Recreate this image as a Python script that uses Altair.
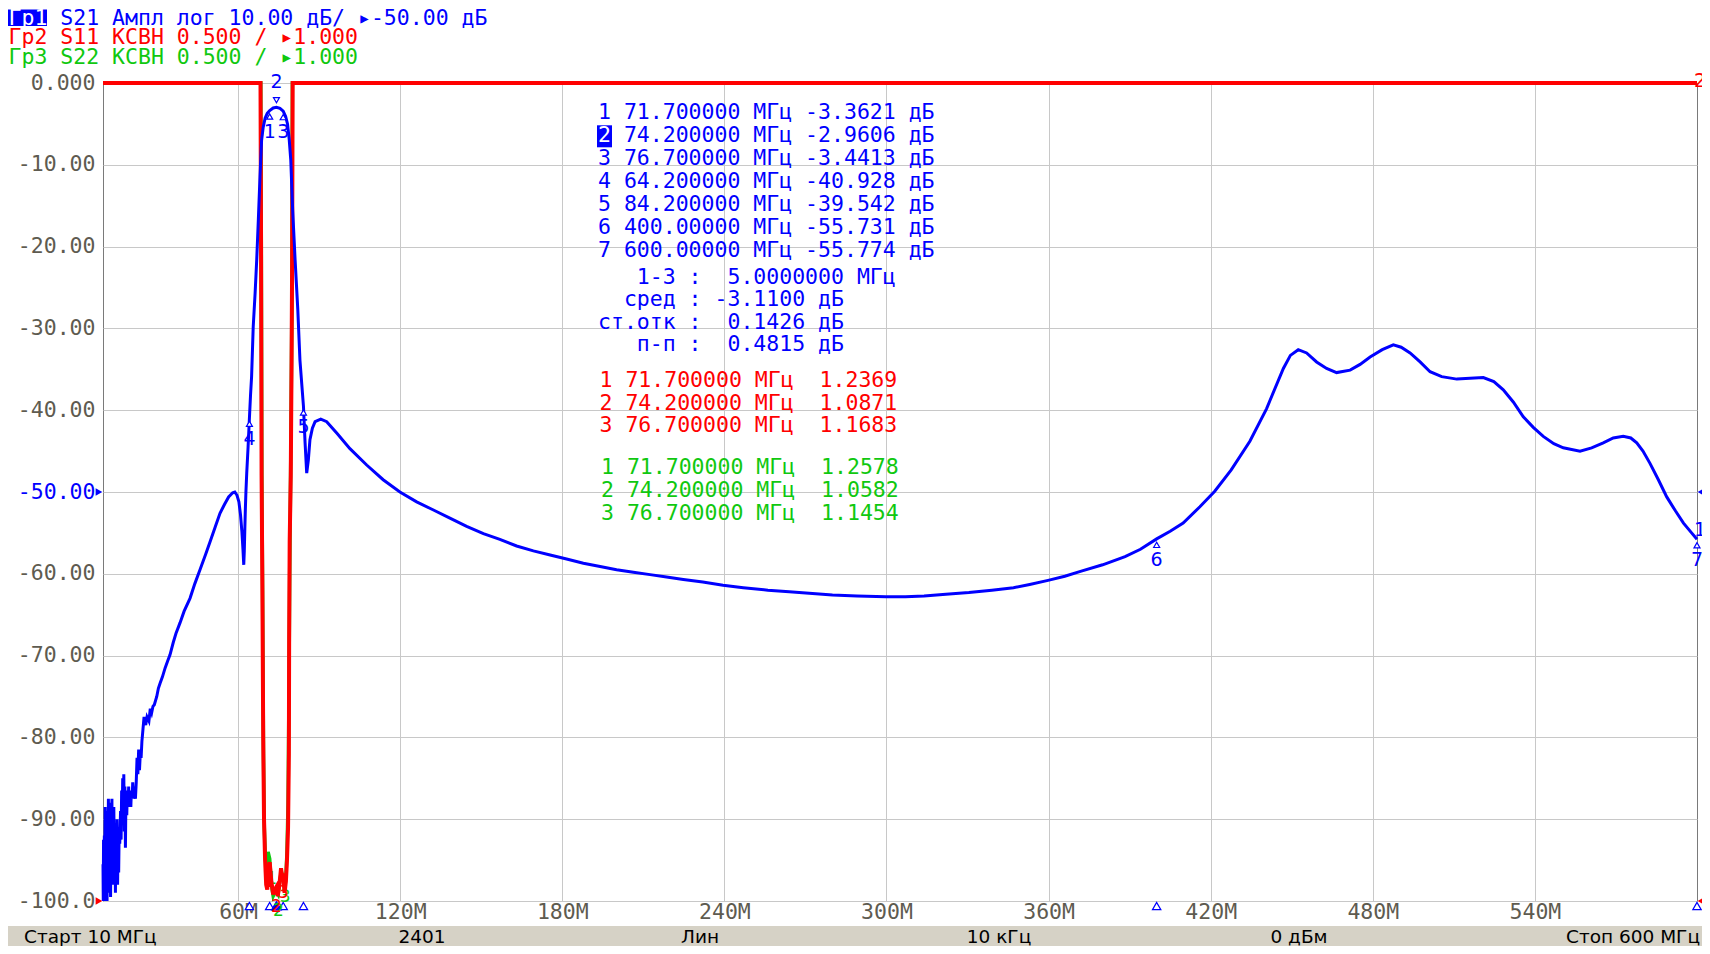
import altair as alt
import pandas as pd

# ---------------- data ----------------
# S21 (Tr1, dB), frequency in MHz
blue_f = [10.0, 10.1, 10.2, 10.35, 10.5, 10.6, 10.8, 10.9, 11.1, 11.2, 11.4, 11.5, 11.7, 11.8,
          12.0, 12.1, 12.3, 12.4, 12.6, 12.8, 13.0, 13.1, 13.3, 13.4, 13.6, 13.8, 14.0, 14.2,
          14.4, 14.6, 14.8, 15.0, 15.2, 15.4, 15.6, 15.8, 16.0, 16.2, 16.5, 16.7, 16.9, 17.1,
          17.3, 17.5, 17.7, 17.9, 18.1, 18.3, 18.5, 18.8, 19.0, 19.3, 19.5, 19.7, 20.0, 20.3,
          20.5, 20.8, 21.0, 21.3, 21.6, 22.0, 22.3, 22.6, 22.9, 23.2, 23.5, 23.8, 24.1, 24.4,
          24.8, 25.2, 25.8, 26.3, 27.0, 27.5, 28.0, 28.5, 29.0, 29.9, 30.5, 31.1, 32.0, 33.0,
          34.0, 34.8, 36.0, 37.0, 38.5, 40.0, 42.2, 44.0, 45.9, 48.0, 49.6, 51.5, 53.3, 55.0,
          56.5, 58.0, 58.8, 59.6, 60.3, 60.9, 61.4, 61.8, 62.1, 62.3, 62.5, 62.7, 62.9, 63.2,
          63.7, 64.2, 64.6, 65.0, 65.6, 66.3, 66.9, 67.5, 68.1, 68.7, 69.3, 70.0, 70.8, 71.7,
          73.0, 74.2, 75.5, 76.7, 77.6, 78.3, 78.9, 79.5, 80.2, 81.1, 82.1, 82.9, 84.2, 84.8,
          85.4, 86.0, 86.6, 87.5, 88.5, 90.6, 92.8, 96.5, 101.4, 107.6, 113.7, 119.9, 126.1,
          132.3, 138.4, 144.6, 150.8, 156.9, 163.1, 169.3, 175.5, 181.6, 187.8, 194.0, 200.1,
          206.3, 212.5, 218.6, 224.8, 232.0, 239.5, 247.0, 256.1, 264.0, 272.6, 280.0, 289.1,
          299.8, 307.0, 313.9, 322.0, 330.5, 339.0, 347.0, 353.0, 359.8, 366.0, 371.8, 380.0,
          388.3, 394.0, 400.0, 405.0, 409.8, 416.0, 421.5, 427.6, 434.5, 440.7, 446.9, 449.5,
          452.4, 455.5, 459.2, 462.9, 466.6, 471.6, 475.3, 479.0, 483.5, 487.6, 490.5, 493.8,
          497.5, 501.2, 505.5, 511.1, 516.0, 520.9, 524.8, 528.3, 532.0, 535.7, 539.4, 543.1,
          547.0, 550.5, 556.7, 561.0, 565.3, 569.0, 572.7, 575.5, 577.7, 580.0, 582.6, 585.7,
          588.8, 592.0, 595.0, 598.0, 600.0]
blue_db = [-95.5, -100.0, -92.5, -99.5, -92.0, -100.0, -88.5, -99.0, -89.0, -97.5, -91.0, -100.0,
           -90.0, -96.5, -87.5, -99.0, -89.5, -97.0, -88.0, -99.5, -90.0, -95.0, -87.5, -94.0,
           -89.0, -98.0, -88.5, -95.0, -90.5, -99.0, -91.0, -96.0, -90.0, -98.0, -92.0, -96.5,
           -91.0, -93.0, -89.0, -92.5, -86.5, -89.5, -85.0, -90.5, -84.5, -91.5, -86.0, -93.5,
           -87.0, -89.5, -86.5, -88.5, -86.0, -88.5, -87.0, -88.5, -86.5, -87.5, -85.5, -87.5,
           -86.0, -87.5, -85.5, -82.5, -84.5, -81.5, -84.0, -82.0, -82.5, -80.5, -79.0, -77.5,
           -78.5, -77.5, -78.0, -76.5, -77.0, -76.2, -76.0, -75.0, -74.0, -73.4, -72.6, -71.5,
           -70.6, -69.9, -68.4, -67.3, -66.0, -64.6, -63.0, -61.2, -59.5, -57.6, -56.1, -54.3,
           -52.6, -51.5, -50.6, -50.1, -50.0, -50.4, -51.2, -52.8, -54.8, -57.0, -58.9, -57.2,
           -54.5, -52.0, -50.0, -47.7, -44.5, -40.928, -38.2, -35.9, -29.8, -25.7, -21.6, -16.7,
           -11.5, -7.0, -5.4, -4.3, -3.7, -3.3621, -3.05, -2.9606, -3.1, -3.4413, -4.1, -5.0,
           -6.8, -9.4, -15.5, -21.6, -27.7, -33.9, -39.542, -44.0, -47.7, -46.1, -43.6, -42.2,
           -41.4, -41.1, -41.4, -42.8, -44.7, -46.7, -48.5, -50.0, -51.2, -52.2, -53.2, -54.2,
           -55.1, -55.8, -56.6, -57.2, -57.7, -58.2, -58.7, -59.1, -59.5, -59.8, -60.1, -60.4,
           -60.7, -61.0, -61.4, -61.7, -62.0, -62.2, -62.4, -62.6, -62.7, -62.8, -62.8, -62.7,
           -62.5, -62.3, -62.0, -61.7, -61.3, -60.8, -60.3, -59.7, -58.9, -57.9, -57.0, -55.731,
           -54.8, -53.8, -51.8, -49.9, -47.3, -43.8, -39.8, -34.9, -33.3, -32.6, -33.0, -34.1,
           -34.9, -35.4, -35.1, -34.4, -33.5, -32.6, -32.0, -32.3, -33.0, -34.1, -35.3, -35.9,
           -36.2, -36.1, -36.0, -36.5, -37.5, -39.0, -40.8, -42.1, -43.2, -44.1, -44.6, -45.0,
           -44.6, -44.0, -43.4, -43.2, -43.4, -44.0, -45.0, -46.5, -48.5, -50.6, -52.3, -53.8,
           -55.0, -55.774]

# S11 (Tr2, VSWR) - values at the top are shown clipped at 6.0
red_f = [10.0, 68.3, 68.5, 68.7, 69.0, 69.3, 69.6, 70.0, 70.4, 70.8, 71.2, 71.7, 72.3, 73.0,
         73.6, 74.2, 74.7, 75.3, 75.9, 76.3, 76.7, 77.2, 77.7, 78.1, 78.5, 78.8, 78.9, 79.1,
         79.5, 79.8, 80.0, 80.2, 600.0]
red_vswr = [6.0, 6.0, 5.0, 3.6, 2.9, 2.0, 1.5, 1.25, 1.10, 1.07, 1.20, 1.2369, 1.12, 1.04,
            1.07, 1.0871, 1.03, 1.10, 1.20, 1.15, 1.1683, 1.05, 1.12, 1.25, 1.45, 1.9, 2.6,
            3.2, 3.6, 4.3, 4.9, 6.0, 6.0]

# S22 (Tr3, VSWR)
green_f = [10.0, 68.4, 68.6, 68.8, 69.1, 69.4, 69.7, 70.1, 70.6, 71.1, 71.7, 72.3, 73.0, 73.6,
           74.2, 74.8, 75.4, 76.0, 76.7, 77.2, 77.7, 78.1, 78.5, 78.8, 79.1, 79.5, 79.9, 80.1,
           600.0]
green_vswr = [6.0, 6.0, 5.0, 3.6, 2.8, 1.9, 1.45, 1.27, 1.15, 1.30, 1.2578, 1.10, 1.03, 1.05,
              1.0582, 1.04, 1.12, 1.18, 1.1454, 1.06, 1.15, 1.3, 1.6, 2.2, 3.0, 3.7, 4.6, 6.0,
              6.0]

marker_num = ["1", "2", "3", "4", "5", "6", "7"]
marker_f = [71.7, 74.2, 76.7, 64.2, 84.2, 400.0, 600.0]
marker_db = [-3.3621, -2.9606, -3.4413, -40.928, -39.542, -55.731, -55.774]
active_marker = "2"
vswr_marker_num = ["1", "2", "3"]
vswr_marker_f = [71.7, 74.2, 76.7]
red_marker_vswr = [1.2369, 1.0871, 1.1683]
green_marker_vswr = [1.2578, 1.0582, 1.1454]

x_ticks = [60, 120, 180, 240, 300, 360, 420, 480, 540]
y_ticks = [0, -10, -20, -30, -40, -50, -60, -70, -80, -90, -100]
y_tick_labels = ["0.000", "-10.00", "-20.00", "-30.00", "-40.00", "-50.00",
                 "-60.00", "-70.00", "-80.00", "-90.00", "-100.0"]
ref_level_db = -50

header_lines = ["Гр1 S21 Ампл лог 10.00 дБ/ ▸-50.00 дБ",
                "Гр2 S11 КСВН 0.500 / ▸1.000",
                "Гр3 S22 КСВН 0.500 / ▸1.000"]
blue_table = ["1 71.700000 МГц -3.3621 дБ",
              "2 74.200000 МГц -2.9606 дБ",
              "3 76.700000 МГц -3.4413 дБ",
              "4 64.200000 МГц -40.928 дБ",
              "5 84.200000 МГц -39.542 дБ",
              "6 400.00000 МГц -55.731 дБ",
              "7 600.00000 МГц -55.774 дБ"]
stats_table = ["   1-3 :  5.0000000 МГц",
               "  сред : -3.1100 дБ",
               "ст.отк :  0.1426 дБ",
               "   п-п :  0.4815 дБ"]
red_table = ["1 71.700000 МГц  1.2369",
             "2 74.200000 МГц  1.0871",
             "3 76.700000 МГц  1.1683"]
green_table = ["1 71.700000 МГц  1.2578",
               "2 74.200000 МГц  1.0582",
               "3 76.700000 МГц  1.1454"]
status_texts = ["Старт 10 МГц", "2401", "Лин", "10 кГц", "0 дБм", "Стоп 600 МГц"]

# ---------------- styling / layout ----------------
BLUE, RED, GREEN = "#0000ff", "#ff0000", "#10c810"
GRAY = "#5e5b50"
MONO, SANS = "DejaVu Sans Mono", "DejaVu Sans"
FS = 21.5
CW = 0.602 * FS           # advance of one monospace character
W, H = 1594, 818
OX, OY = 103, 83          # page position of the plot origin


def px(x):
    return x - OX


def py(y):
    return y - OY


XS = alt.Scale(domain=[10, 600], nice=False, zero=False)
YDB = alt.Scale(domain=[-100, 0], nice=False, zero=False)
YSW = alt.Scale(domain=[1, 6], nice=False, zero=False, clamp=True)

y_label_expr = "[" + ",".join("'%s'" % s for s in y_tick_labels) + "][round(-datum.value/10)]"

blue_df = pd.DataFrame({"f": blue_f, "db": blue_db})
red_df = pd.DataFrame({"f": red_f, "v": red_vswr})
green_df = pd.DataFrame({"f": green_f, "v": green_vswr})
mk = pd.DataFrame({"t": marker_num, "f": marker_f, "db": marker_db})
mk_pas = mk[mk.t != active_marker]
mk_act = mk[mk.t == active_marker]
red_mk = pd.DataFrame({"t": vswr_marker_num, "f": vswr_marker_f, "v": red_marker_vswr})
green_mk = pd.DataFrame({"t": vswr_marker_num, "f": vswr_marker_f, "v": green_marker_vswr})


def xf():
    return alt.X("f:Q", scale=XS, axis=None)


def ydb():
    return alt.Y("db:Q", scale=YDB, axis=None)


def ysw():
    return alt.Y("v:Q", scale=YSW, axis=None)


# invisible copy of the blue trace that carries the axes and the grid
axes_layer = alt.Chart(blue_df).mark_line(strokeWidth=0, opacity=0).encode(
    x=alt.X("f:Q", scale=XS,
            axis=alt.Axis(values=x_ticks, labelExpr="datum.value + 'M'", title=None,
                          grid=True, labelBaseline="middle", labelAlign="center",
                          labelPadding=11, orient="bottom")),
    y=alt.Y("db:Q", scale=YDB,
            axis=alt.Axis(values=y_ticks, labelExpr=y_label_expr, title=None, grid=True,
                          labelPadding=8, labelBaseline="middle", orient="left",
                          labelColor={"condition": {"test": "datum.value == %d" % ref_level_db,
                                                    "value": BLUE},
                                      "value": GRAY})),
)

blue_line = alt.Chart(blue_df).mark_line(color=BLUE, strokeWidth=3).encode(x=xf(), y=ydb())
green_line = alt.Chart(green_df).mark_line(color=GREEN, strokeWidth=3.5).encode(x=xf(), y=ysw())
red_line = alt.Chart(red_df).mark_line(color=RED, strokeWidth=4).encode(x=xf(), y=ysw())

green_lbl = alt.Chart(green_mk).mark_text(font=SANS, fontSize=17, color=GREEN, dy=20,
                                          dx=2).encode(x=xf(), y=ysw(), text="t:N")
red_lbl = alt.Chart(red_mk).mark_text(font=SANS, fontSize=17, color=RED, dy=20).encode(
    x=xf(), y=ysw(), text="t:N")

tri_pas = alt.Chart(mk_pas).mark_point(shape="triangle-up", size=36, filled=True, fill="white",
                                       stroke=BLUE, strokeWidth=1.2, opacity=1,
                                       yOffset=6).encode(x=xf(), y=ydb())
tri_act = alt.Chart(mk_act).mark_point(shape="triangle-down", size=36, filled=True, fill="white",
                                       stroke=BLUE, strokeWidth=1.2, opacity=1,
                                       yOffset=-7).encode(x=xf(), y=ydb())
lbl_pas = alt.Chart(mk_pas).mark_text(font=SANS, fontSize=19, color=BLUE, dy=21).encode(
    x=xf(), y=ydb(), text="t:N")
lbl_act = alt.Chart(mk_act).mark_text(font=SANS, fontSize=19, color=BLUE, dy=-25).encode(
    x=xf(), y=ydb(), text="t:N")

# marker ticks on the frequency axis
axis_mk = mk.assign(db=-100.0)
ax_tri = alt.Chart(axis_mk).mark_point(shape="triangle-up", size=70, filled=True, fill="white",
                                       stroke=BLUE, strokeWidth=1.2, opacity=1,
                                       yOffset=5).encode(x=xf(), y=ydb())
ax_tri_act = alt.Chart(axis_mk[axis_mk.t == active_marker]).mark_point(
    shape="triangle-up", size=70, filled=True, fill=BLUE, stroke=BLUE, opacity=1,
    yOffset=5).encode(x=xf(), y=ydb())

# reference position pointers at the plot edges
ref_df = pd.DataFrame({"f": [10.0, 10.0], "db": [ref_level_db, -100.0], "c": [BLUE, RED]})
ref_l = alt.Chart(ref_df).mark_point(shape="triangle-right", size=60, filled=True, opacity=1,
                                     xOffset=-4).encode(
    x=xf(), y=ydb(), color=alt.Color("c:N", scale=None))
ref_r = alt.Chart(ref_df.assign(f=600.0)).mark_point(shape="triangle-left", size=60, filled=True,
                                                     opacity=1, xOffset=4).encode(
    x=xf(), y=ydb(), color=alt.Color("c:N", scale=None))

# trace end indicators on the right
end1 = alt.Chart(mk[mk.t == "7"].assign(t="1")).mark_text(
    font=SANS, fontSize=19, color=BLUE, dx=3, dy=-9).encode(x=xf(), y=ydb(), text="t:N")
end2 = alt.Chart(pd.DataFrame({"f": [600.0], "v": [6.0], "t": ["2"]})).mark_text(
    font=SANS, fontSize=19, color=RED, dx=3, dy=-2).encode(x=xf(), y=ysw(), text="t:N")

# ---------------- annotation texts (pixel layout) ----------------
HX = 8.5                       # page x of the header text
HY = [18.5, 38.0, 57.5]        # page y of the header lines
TY_BLUE, TY_STAT, TY_RED, TY_GREEN = 113.4, 278.2, 380.6, 467.9
ROW, ROW_STAT = 22.9, 22.2
SY = 936.5

rects = pd.DataFrame({
    "x": [px(8), px(8), px(597)],
    "x2": [px(1702), px(47), px(612)],
    "y": [py(926), py(HY[0] - 9), py(TY_BLUE + ROW - 11)],
    "y2": [py(946), py(HY[0] + 7.5), py(TY_BLUE + ROW + 11)],
    "c": ["#d6d2c6", BLUE, BLUE],
})
rect_layer = alt.Chart(rects).mark_rect().encode(
    x=alt.X("x:Q", scale=None, axis=None), x2="x2:Q",
    y=alt.Y("y:Q", scale=None, axis=None), y2="y2:Q",
    color=alt.Color("c:N", scale=None))

rows = []


def add(s, x0, y, c, skip=0):
    """monospace text: leading blanks (or skipped cells) become an x shift"""
    s = s[skip:]
    n = len(s) - len(s.lstrip(" "))
    rows.append((s.strip().replace(" ", "\u00a0"), px(x0 + (n + skip) * CW), py(y), c))


hc = [BLUE, RED, GREEN]
for i, s in enumerate(header_lines):
    add(s, HX, HY[i], hc[i], skip=3 if i == 0 else 0)
add(header_lines[0][:3], HX, HY[0], "white")
for i, s in enumerate(blue_table):
    add(s, 598, TY_BLUE + ROW * i, BLUE, skip=1 if i == 1 else 0)
add(blue_table[1][:1], 598, TY_BLUE + ROW, "white")
for i, s in enumerate(stats_table):
    add(s, 598, TY_STAT + ROW_STAT * i, BLUE)
for i, s in enumerate(red_table):
    add(s, 599.5, TY_RED + ROW * i, RED)
for i, s in enumerate(green_table):
    add(s, 601, TY_GREEN + ROW * i, GREEN)
mono_df = pd.DataFrame(rows, columns=["t", "x", "y", "c"])


def txt(df, font, size, align):
    return alt.Chart(df).mark_text(font=font, fontSize=size, align=align,
                                   baseline="middle").encode(
        x=alt.X("x:Q", scale=None, axis=None), y=alt.Y("y:Q", scale=None, axis=None),
        text="t:N", color=alt.Color("c:N", scale=None))


mono_layer = txt(mono_df, MONO, FS, "left")

st_left = pd.DataFrame({"t": [status_texts[0]], "x": [px(24)], "y": [py(SY)], "c": ["black"]})
st_mid = pd.DataFrame({"t": status_texts[1:5], "x": [px(422), px(700), px(999), px(1299)],
                       "y": [py(SY)] * 4, "c": ["black"] * 4})
st_right = pd.DataFrame({"t": [status_texts[5]], "x": [px(1700)], "y": [py(SY)], "c": ["black"]})

chart = alt.layer(
    rect_layer,
    axes_layer,
    ax_tri, ax_tri_act,
    green_line, green_lbl, red_line, red_lbl,
    blue_line,
    tri_pas, tri_act, lbl_pas, lbl_act,
    ref_l, ref_r, end1, end2,
    mono_layer,
    txt(st_left, SANS, 18.5, "left"),
    txt(st_mid, SANS, 18.5, "center"),
    txt(st_right, SANS, 18.5, "right"),
).resolve_scale(x="independent", y="independent").properties(
    width=W, height=H,
    autosize=alt.AutoSizeParams(type="none"),
    padding={"left": 95, "top": 75, "right": 5, "bottom": 45},
    background="white",
).configure_view(stroke="#7a7a7a", strokeWidth=1).configure_axis(
    gridColor="#c8c8c8", gridWidth=1, domain=False, ticks=False, tickSize=0,
    labelFont=MONO, labelFontSize=FS, labelColor=GRAY, labelFlush=False,
    labelOverlap=False,
)

chart.save("out.html", embed_options={"renderer": "svg", "actions": False})
